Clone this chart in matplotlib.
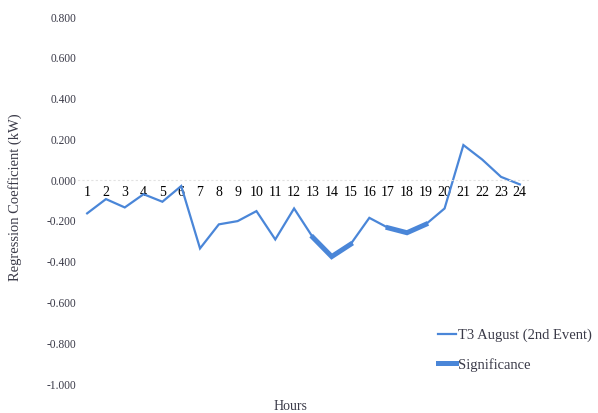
import numpy as np
import matplotlib
matplotlib.use("Agg")
import matplotlib.pyplot as plt
from matplotlib.lines import Line2D

hours = list(range(1, 25))
coefficients = [-0.163, -0.093, -0.134, -0.069, -0.106, -0.029, -0.335, -0.217,
                -0.201, -0.152, -0.291, -0.139, -0.281, -0.375, -0.315, -0.185,
                -0.234, -0.258, -0.217, -0.139, 0.172, 0.101, 0.016, -0.021]
significant_hours = [13, 14, 15, 17, 18, 19]
y_ticks = [0.8, 0.6, 0.4, 0.2, 0.0, -0.2, -0.4, -0.6, -0.8, -1.0]

plt.rcParams['font.family'] = ['Liberation Serif', 'DejaVu Serif']
text_color = '#3a3a48'
line_color = '#4a86d8'

fig = plt.figure(figsize=(5.98, 4.13), dpi=100)
ax = fig.add_axes([0.13, 0.0702, 0.755, 0.8886])

x = np.array(hours)
y = np.array(coefficients)
mask = np.isin(x, significant_hours)
y_sig = np.where(mask, y, np.nan)

ax.plot(x, y, color=line_color, lw=1.6, solid_joinstyle='miter')
ax.plot(x, y_sig, color=line_color, lw=3.6, solid_joinstyle='miter')

ax.set_xlim(0.5, 24.5)
ax.set_ylim(-1.0, 0.8)
ax.set_yticks(y_ticks)
ax.set_yticklabels([f"{v:.3f}" for v in y_ticks], fontsize=8.3, color=text_color)
ax.set_xticks(hours)
ax.set_xticklabels([str(h) for h in hours], fontsize=9, color='#222230')

for side in ['top', 'right', 'left']:
    ax.spines[side].set_visible(False)
ax.spines['bottom'].set_position(('data', 0))
ax.spines['bottom'].set_color('#e2e2e2')
ax.spines['bottom'].set_linestyle((0, (1, 3)))
ax.spines['bottom'].set_linewidth(0.8)
ax.tick_params(axis='both', length=0)
ax.tick_params(axis='x', pad=4)
ax.tick_params(axis='y', pad=1)

fig.text(15 / 598, 1 - 197 / 413, 'Regression Coefficient (kW)', rotation=90,
         ha='center', va='center', fontsize=10.5, color=text_color)
fig.text(290 / 598, 1 - 406 / 413, 'Hours', ha='center', va='center',
         fontsize=10, color=text_color)

handles = [Line2D([], [], color=line_color, lw=1.6),
           Line2D([], [], color=line_color, lw=3.6)]
ax.legend(handles, ['T3 August (2nd Event)', 'Significance'],
          loc='upper left', bbox_to_anchor=(438 / 598, 1 - 329 / 413),
          bbox_transform=fig.transFigure, frameon=False, fontsize=10.5,
          handlelength=1.2, handletextpad=0.15, labelspacing=1.05,
          borderpad=0, borderaxespad=0, labelcolor=text_color)

fig.savefig('out.png', dpi=100)
